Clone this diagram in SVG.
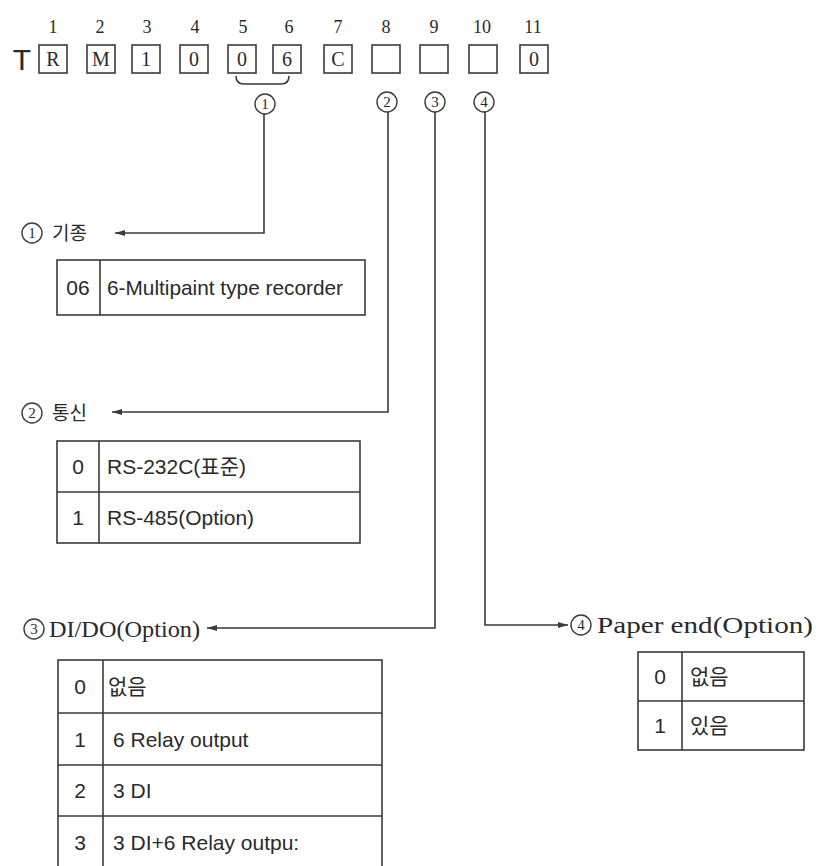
<svg xmlns="http://www.w3.org/2000/svg" width="818" height="866" viewBox="0 0 818 866">
<style>
.ln{fill:none;stroke:#3a3a3a;stroke-width:1.6}
.bx{fill:none;stroke:#3a3a3a;stroke-width:1.6}
.num{font-family:"Liberation Serif",serif;font-size:18px;fill:#2a2a2a;text-anchor:middle}
.lt{font-family:"Liberation Serif",serif;font-size:20px;fill:#2a2a2a;text-anchor:middle}
.cn{font-family:"Liberation Serif",serif;font-size:15px;fill:#2a2a2a;text-anchor:middle}
.ser{font-family:"Liberation Serif",serif;font-size:24px;fill:#2a2a2a}
.kr{font-family:"Noto Sans CJK KR",sans-serif;font-size:19px;fill:#2a2a2a}
.tx{font-family:"Liberation Sans","Noto Sans CJK KR",sans-serif;font-size:21px;fill:#2a2a2a}
.tc{font-family:"Liberation Sans",sans-serif;font-size:21px;fill:#2a2a2a;text-anchor:middle}
.ck{fill:#fff;stroke:#3a3a3a;stroke-width:1.4}
</style>
<defs>
<marker id="ah" viewBox="0 0 10 6" refX="10" refY="3" markerWidth="10" markerHeight="6" markerUnits="userSpaceOnUse" orient="auto">
<path d="M0,0 L10,3 L0,6 z" fill="#3a3a3a"/>
</marker>
</defs>
<rect width="818" height="866" fill="#ffffff"/>

<g id="code">
<text x="22" y="70" style="font-family:'Liberation Sans',sans-serif;font-size:30px;fill:#2a2a2a;text-anchor:middle">T</text>
<text class="num" x="53" y="33">1</text>
<text class="num" x="100" y="33">2</text>
<text class="num" x="147" y="33">3</text>
<text class="num" x="195" y="33">4</text>
<text class="num" x="243" y="33">5</text>
<text class="num" x="289" y="33">6</text>
<text class="num" x="338" y="33">7</text>
<text class="num" x="386" y="33">8</text>
<text class="num" x="434" y="33">9</text>
<text class="num" x="482" y="33">10</text>
<text class="num" x="533" y="33">11</text>
<rect class="bx" x="39" y="45" width="28" height="28"/>
<rect class="bx" x="87" y="45" width="28" height="28"/>
<rect class="bx" x="132" y="45" width="28" height="28"/>
<rect class="bx" x="180" y="45" width="28" height="28"/>
<rect class="bx" x="228" y="45" width="28" height="28"/>
<rect class="bx" x="273" y="45" width="28" height="28"/>
<rect class="bx" x="324" y="45" width="28" height="28"/>
<rect class="bx" x="372" y="45" width="28" height="28"/>
<rect class="bx" x="420" y="45" width="28" height="28"/>
<rect class="bx" x="469" y="45" width="28" height="28"/>
<rect class="bx" x="520" y="45" width="28" height="28"/>
<text class="lt" x="53" y="66">R</text>
<text class="lt" x="101" y="66">M</text>
<text class="lt" x="146" y="66">1</text>
<text class="lt" x="194" y="66">0</text>
<text class="lt" x="242" y="66">0</text>
<text class="lt" x="287" y="66">6</text>
<text class="lt" x="338" y="66">C</text>
<text class="lt" x="534" y="66">0</text>
<path class="ln" d="M236,76 Q236,84 244,84 L281,84 Q289,84 289,76"/>
<circle class="ck" cx="265" cy="104" r="10"/>
<text class="cn" x="265" y="109">1</text>
<circle class="ck" cx="387" cy="102" r="10"/>
<text class="cn" x="387" y="107">2</text>
<circle class="ck" cx="435" cy="102" r="10"/>
<text class="cn" x="435" y="107">3</text>
<circle class="ck" cx="484" cy="102" r="10"/>
<text class="cn" x="484" y="107">4</text>
</g>

<g id="connectors">
<path class="ln" d="M264,114 V233 H115" marker-end="url(#ah)"/>
<path class="ln" d="M388,112 V412 H112" marker-end="url(#ah)"/>
<path class="ln" d="M435,112 V628 H207" marker-end="url(#ah)"/>
<path class="ln" d="M485,112 V625 H568" marker-end="url(#ah)"/>
</g>

<g id="node1">
<circle class="ck" cx="32" cy="233" r="10"/>
<text class="cn" x="32" y="238">1</text>
<text class="kr" x="52" y="240">기종</text>
<rect class="bx" x="57" y="260" width="308" height="55"/>
<line class="ln" x1="100" y1="260" x2="100" y2="315"/>
<text class="tc" x="78" y="295">06</text>
<text class="tx" x="107" y="295" textLength="236" lengthAdjust="spacingAndGlyphs">6-Multipaint type recorder</text>
</g>

<g id="node2">
<circle class="ck" cx="32" cy="413" r="10"/>
<text class="cn" x="32" y="418">2</text>
<text class="kr" x="52" y="420">통신</text>
<rect class="bx" x="57" y="441" width="303" height="102"/>
<line class="ln" x1="99" y1="441" x2="99" y2="543"/>
<line class="ln" x1="57" y1="492" x2="360" y2="492"/>
<text class="tc" x="78" y="474">0</text>
<text class="tx" x="107" y="474">RS-232C(표준)</text>
<text class="tc" x="78" y="525">1</text>
<text class="tx" x="107" y="525">RS-485(Option)</text>
</g>

<g id="node3">
<circle class="ck" cx="34" cy="629" r="10"/>
<text class="cn" x="34" y="634">3</text>
<text class="ser" x="49" y="637" textLength="151" lengthAdjust="spacingAndGlyphs">DI/DO(Option)</text>
<rect class="bx" x="58" y="660" width="324" height="210"/>
<line class="ln" x1="103" y1="660" x2="103" y2="870"/>
<line class="ln" x1="58" y1="713" x2="382" y2="713"/>
<line class="ln" x1="58" y1="765" x2="382" y2="765"/>
<line class="ln" x1="58" y1="816" x2="382" y2="816"/>
<text class="tc" x="80" y="694">0</text>
<text class="tx" x="108" y="694">없음</text>
<text class="tc" x="80" y="747">1</text>
<text class="tx" x="113" y="747">6 Relay output</text>
<text class="tc" x="80" y="798">2</text>
<text class="tx" x="113" y="798">3 DI</text>
<text class="tc" x="80" y="850">3</text>
<text class="tx" x="113" y="850">3 DI+6 Relay outpu:</text>
</g>

<g id="node4">
<circle class="ck" cx="581" cy="625" r="10"/>
<text class="cn" x="581" y="630">4</text>
<text class="ser" x="597" y="633" textLength="216" lengthAdjust="spacingAndGlyphs">Paper end(Option)</text>
<rect class="bx" x="638" y="652" width="166" height="98"/>
<line class="ln" x1="682" y1="652" x2="682" y2="750"/>
<line class="ln" x1="638" y1="701" x2="804" y2="701"/>
<text class="tc" x="660" y="684">0</text>
<text class="tx" x="690" y="684">없음</text>
<text class="tc" x="660" y="733">1</text>
<text class="tx" x="690" y="733">있음</text>
</g>
</svg>
